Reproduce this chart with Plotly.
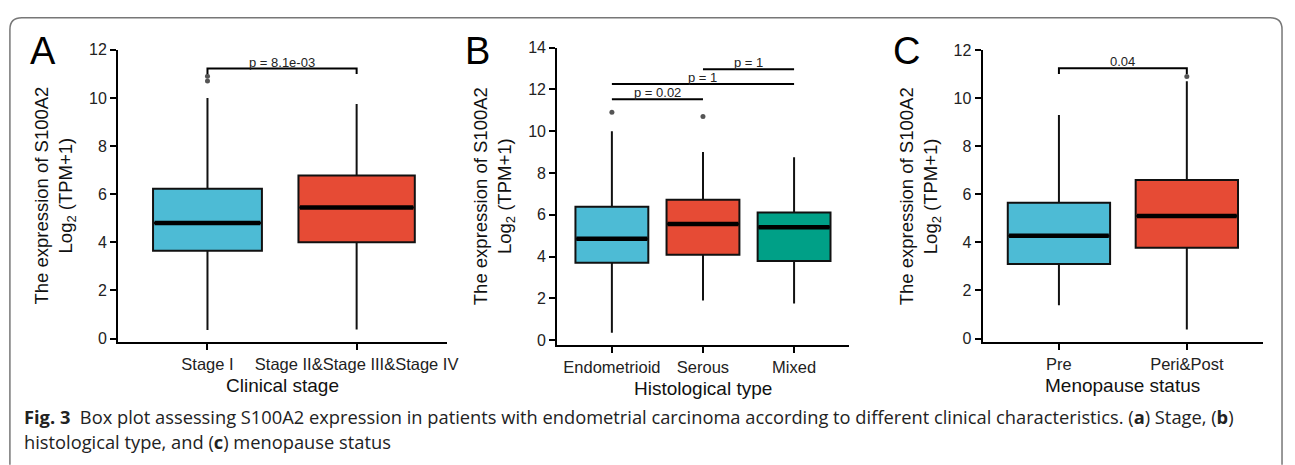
import plotly.graph_objects as go

W, H = 1295, 465

# ---------------- data ----------------
stage_cats = ["Stage I", "Stage II&Stage III&Stage IV"]
stage_q1 = [3.65, 4.0]
stage_med = [4.8, 5.45]
stage_q3 = [6.22, 6.78]
stage_lo = [0.35, 0.38]
stage_hi = [10.0, 9.75]
stage_out_x = [0, 0]
stage_out_y = [10.7, 10.9]

hist_cats = ["Endometrioid", "Serous", "Mixed"]
hist_q1 = [3.7, 4.08, 3.78]
hist_med = [4.85, 5.55, 5.4]
hist_q3 = [6.38, 6.72, 6.1]
hist_lo = [0.35, 1.9, 1.75]
hist_hi = [10.0, 9.0, 8.75]
hist_out_x = [0, 1]
hist_out_y = [10.9, 10.7]

meno_cats = ["Pre", "Peri&Post"]
meno_q1 = [3.1, 3.78]
meno_med = [4.28, 5.1]
meno_q3 = [5.65, 6.6]
meno_lo = [1.38, 0.38]
meno_hi = [9.3, 10.7]
meno_out_x = [1]
meno_out_y = [10.9]

# comparisons: (i, j, y, label)
stage_cmp = [(0, 1, 11.22, "p = 8.1e-03")]
hist_cmp = [(0, 1, 11.53, "p = 0.02"), (0, 2, 12.25, "p = 1"), (1, 2, 12.96, "p = 1")]
meno_cmp = [(0, 1, 11.24, "0.04")]

colors = ["#4DBBD5", "#E64B35", "#00A087"]

# ---------------- layout helpers ----------------
def px_x(p):
    return p / W

def px_y(p):
    return 1 - p / H

panels = [
    dict(cats=stage_cats, q1=stage_q1, med=stage_med, q3=stage_q3, lo=stage_lo, hi=stage_hi,
         ox=stage_out_x, oy=stage_out_y, cmp=stage_cmp, widths=[0.73, 0.78],
         xpx=(119, 451), ypx=(43, 344), yrange=(-0.16, 12.0), xrange=(-0.6, 1.607),
         ticks=[0, 2, 4, 6, 8, 10, 12], letter="A", letter_x=43, title="Clinical stage",
         ytitle_x=56, xtitle_y=388, bracket_tick=0.23),
    dict(cats=hist_cats, q1=hist_q1, med=hist_med, q3=hist_q3, lo=hist_lo, hi=hist_hi,
         ox=hist_out_x, oy=hist_out_y, cmp=hist_cmp, widths=[0.8, 0.8, 0.8],
         xpx=(562, 856), ypx=(40.7, 347), yrange=(-0.25, 14.0), xrange=(-0.6, 2.6),
         ticks=[0, 2, 4, 6, 8, 10, 12, 14], letter="B", letter_x=482, title="Histological type",
         ytitle_x=499, xtitle_y=391, bracket_tick=0),
    dict(cats=meno_cats, q1=meno_q1, med=meno_med, q3=meno_q3, lo=meno_lo, hi=meno_hi,
         ox=meno_out_x, oy=meno_out_y, cmp=meno_cmp, widths=[0.8, 0.8],
         xpx=(991, 1274), ypx=(43.3, 344), yrange=(-0.16, 12.0), xrange=(-0.597, 1.597),
         ticks=[0, 2, 4, 6, 8, 10, 12], letter="C", letter_x=914, title="Menopause status",
         ytitle_x=928, xtitle_y=388, bracket_tick=0.23),
]

fig = go.Figure()
annotations = []
layout_axes = {}
FONT = "Liberation Sans, Arial, sans-serif"

for k, p in enumerate(panels):
    n = k + 1
    xa = "x" if n == 1 else f"x{n}"
    ya = "y" if n == 1 else f"y{n}"
    xkey = "xaxis" if n == 1 else f"xaxis{n}"
    ykey = "yaxis" if n == 1 else f"yaxis{n}"
    ncat = len(p["cats"])
    for i in range(ncat):
        fig.add_trace(go.Box(
            x=[i], q1=[p["q1"][i]], median=[p["med"][i]], q3=[p["q3"][i]],
            lowerfence=[p["lo"][i]], upperfence=[p["hi"][i]],
            width=p["widths"][i], whiskerwidth=0, boxpoints=False,
            fillcolor=colors[i], line=dict(color="#111111", width=2),
            xaxis=xa, yaxis=ya, showlegend=False, hoverinfo="skip"))
        # thick median line
        hw = p["widths"][i] / 2
        fig.add_trace(go.Scatter(
            x=[i - hw + 0.01, i + hw - 0.01], y=[p["med"][i]] * 2, mode="lines",
            line=dict(color="black", width=4.5), xaxis=xa, yaxis=ya,
            showlegend=False, hoverinfo="skip"))
    # outliers
    fig.add_trace(go.Scatter(
        x=p["ox"], y=p["oy"], mode="markers",
        marker=dict(color="#555555", size=5), xaxis=xa, yaxis=ya,
        showlegend=False, hoverinfo="skip"))
    # brackets
    for (i, j, yv, lab) in p["cmp"]:
        t = p["bracket_tick"]
        if t > 0:
            bx = [i, i, j, j]
            by = [yv - t, yv, yv, yv - t]
        else:
            bx = [i, j]
            by = [yv, yv]
        fig.add_trace(go.Scatter(
            x=bx, y=by, mode="lines", line=dict(color="black", width=2),
            xaxis=xa, yaxis=ya, showlegend=False, hoverinfo="skip"))
        annotations.append(dict(
            x=(i + j) / 2, y=yv, xref=xa, yref=ya, text=lab, showarrow=False,
            yanchor="bottom", yshift=-3, font=dict(family=FONT, size=13, color="#222")))

    x0, x1 = p["xpx"]
    y0, y1 = p["ypx"]
    layout_axes[xkey] = dict(
        domain=[px_x(x0), px_x(x1)], range=list(p["xrange"]), anchor=ya,
        tickmode="array", tickvals=list(range(ncat)), ticktext=p["cats"],
        showline=True, linecolor="black", linewidth=2, ticks="outside",
        ticklen=6, tickwidth=2, tickcolor="black", showgrid=False, zeroline=False,
        tickfont=dict(family=FONT, size=16.5, color="#222"), fixedrange=True)
    layout_axes[ykey] = dict(
        domain=[px_y(y1), px_y(y0)], range=list(p["yrange"]), anchor=xa,
        tickmode="array", tickvals=p["ticks"],
        showline=True, linecolor="black", linewidth=2, ticks="outside",
        ticklen=6, tickwidth=2, tickcolor="black", showgrid=False, zeroline=False,
        tickfont=dict(family=FONT, size=16, color="#222"), fixedrange=True)
    # panel letter
    annotations.append(dict(
        x=px_x(p["letter_x"]), y=px_y(44), xref="paper", yref="paper", text=p["letter"],
        showarrow=False, xanchor="center", yanchor="middle",
        font=dict(family=FONT, size=38, color="black")))
    # y title
    annotations.append(dict(
        x=px_x(p["ytitle_x"]), y=px_y((y0 + y1) / 2), xref="paper", yref="paper",
        text="The expression of S100A2<br>Log<sub>2</sub> (TPM+1)", textangle=-90,
        showarrow=False, xanchor="center", yanchor="middle",
        font=dict(family=FONT, size=18.5, color="#111")))
    # x title
    annotations.append(dict(
        x=px_x((x0 + x1) / 2), y=px_y(p["xtitle_y"]), xref="paper", yref="paper",
        text=p["title"], showarrow=False, xanchor="center", yanchor="middle",
        font=dict(family=FONT, size=19, color="#111")))

# caption
CAP = "Open Sans, Lato, sans-serif"
annotations.append(dict(
    x=px_x(22), y=px_y(420.5), xref="paper", yref="paper", xanchor="left", yanchor="middle",
    showarrow=False, font=dict(family=CAP, size=18.3, color="#222"),
    text="<b>Fig. 3</b>  Box plot assessing S100A2 expression in patients with endometrial carcinoma "
         "according to different clinical characteristics. (<b>a</b>) Stage, (<b>b</b>)"))
annotations.append(dict(
    x=px_x(22), y=px_y(446), xref="paper", yref="paper", xanchor="left", yanchor="middle",
    showarrow=False, font=dict(family=CAP, size=18.3, color="#222"),
    text="histological type, and (<b>c</b>) menopause status"))

# frame
def P(xp, yp):
    return f"{px_x(xp):.5f},{px_y(yp):.5f}"

frame = (f"M {P(10, 470)} L {P(10, 22)} Q {P(10, 10)} {P(22, 10)} "
         f"L {P(1281, 10)} Q {P(1293, 10)} {P(1293, 22)} L {P(1293, 470)}")

fig.update_layout(
    width=W, height=H, margin=dict(l=0, r=0, t=0, b=0),
    paper_bgcolor="white", plot_bgcolor="white",
    boxmode="overlay", showlegend=False,
    annotations=annotations,
    shapes=[dict(type="path", path=frame, xref="paper", yref="paper",
                 line=dict(color="#777777", width=1.5))],
    **layout_axes)

fig.write_html("out.html")
